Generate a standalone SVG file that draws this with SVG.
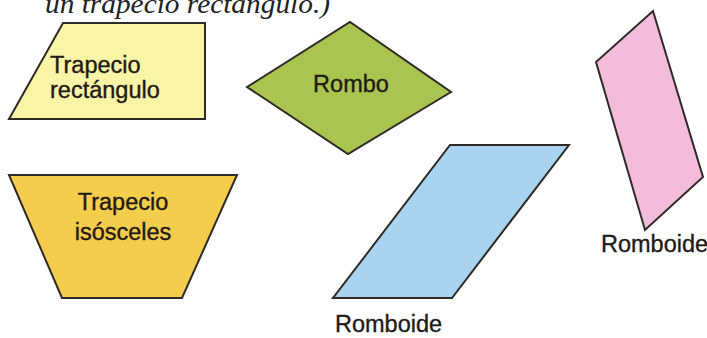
<svg xmlns="http://www.w3.org/2000/svg" width="707" height="338" viewBox="0 0 707 338">
<style>
.s{stroke:#2f2a26;stroke-width:2;stroke-linejoin:miter}
.t{font-family:"Liberation Sans",Arial,sans-serif;font-size:23.5px;fill:#1e1a16;stroke:#1e1a16;stroke-width:0.35}
.c{text-anchor:middle}
</style>
<rect width="707" height="338" fill="#ffffff"/>
<text x="45" y="13" font-family="'Liberation Serif','Times New Roman',serif" font-style="italic" font-size="28" fill="#222" textLength="285" lengthAdjust="spacingAndGlyphs">un trapecio rectángulo.)</text>
<g id="trapecio-rectangulo">
<polygon class="s" points="63,23 205,23 205,119 9,119" fill="#FAF4A6"/>
<text class="t" x="50" y="73">Trapecio</text>
<text class="t" x="50" y="98">rectángulo</text>
</g>
<g id="rombo">
<polygon class="s" points="247,87 350,22 451,92 348,154" fill="#A9C550"/>
<text class="t c" x="351" y="92">Rombo</text>
</g>
<g id="trapecio-isosceles">
<polygon class="s" points="9,175 237,175 182,298 62,298" fill="#F4CD4C"/>
<text class="t c" x="123" y="210">Trapecio</text>
<text class="t c" x="123" y="240">isósceles</text>
</g>
<g id="romboide-azul">
<polygon class="s" points="450,145 569,145 452,298 333,298" fill="#A8D3F1"/>
<text class="t" x="335" y="332">Romboide</text>
</g>
<g id="romboide-rosa">
<polygon class="s" points="653,11 703,177 645,230 596,62" fill="#F4BCDB"/>
<text class="t" x="601" y="252" font-size="23">Romboide</text>
</g>
</svg>
